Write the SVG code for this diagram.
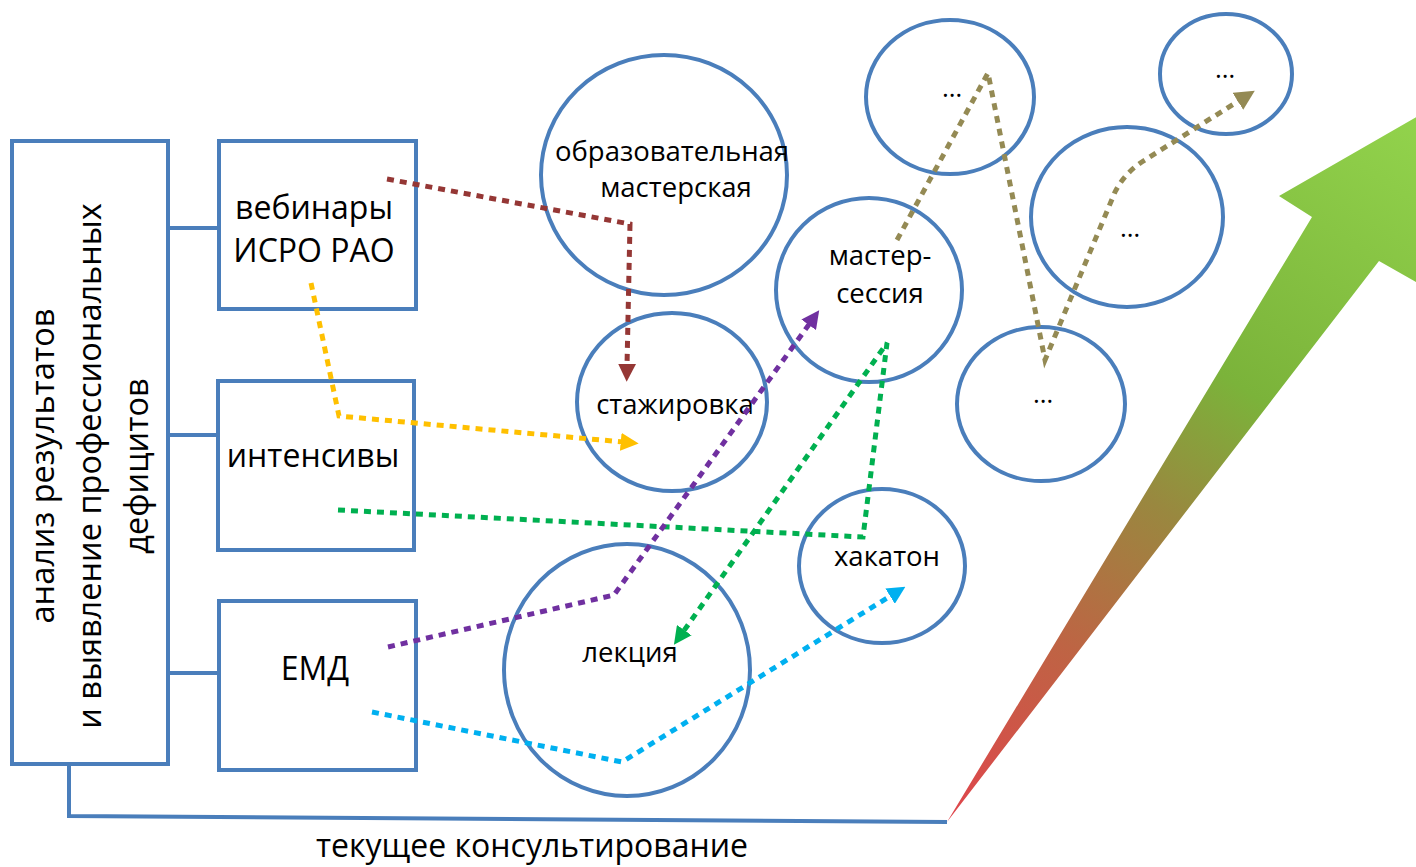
<svg xmlns="http://www.w3.org/2000/svg" width="1416" height="867" viewBox="0 0 1416 867">
<style>
.box{fill:#fff;stroke:#4A7EBB;stroke-width:4}
.ell{fill:none;stroke:#4A7EBB;stroke-width:4}
.ln{fill:none;stroke:#4A7EBB;stroke-width:4}
.t{font-family:"Open Sans","Noto Sans",sans-serif;fill:#000;text-anchor:middle}
.bt{font-size:32px}
.vt{font-size:32.5px}
.ct{font-size:27.5px}
.dt{font-size:26px}
.dot{fill:none;stroke-width:5;stroke-dasharray:7 6}
</style>
<defs>
<linearGradient id="g" gradientUnits="userSpaceOnUse" x1="947" y1="822" x2="1416" y2="117">
<stop offset="0" stop-color="#E0454C"/>
<stop offset="0.25" stop-color="#BE6444"/>
<stop offset="0.45" stop-color="#99883F"/>
<stop offset="0.62" stop-color="#7BB33A"/>
<stop offset="1" stop-color="#92D34C"/>
</linearGradient>
<marker id="mBr" markerUnits="userSpaceOnUse" markerWidth="18" markerHeight="18" viewBox="0 0 16 16" refX="2" refY="8" orient="auto"><path d="M0,0 L16,8 L0,16 z" fill="#953735"/></marker>
<marker id="mY" markerUnits="userSpaceOnUse" markerWidth="18" markerHeight="18" viewBox="0 0 16 16" refX="2" refY="8" orient="auto"><path d="M0,0 L16,8 L0,16 z" fill="#FFC000"/></marker>
<marker id="mG" markerUnits="userSpaceOnUse" markerWidth="18" markerHeight="18" viewBox="0 0 16 16" refX="2" refY="8" orient="auto"><path d="M0,0 L16,8 L0,16 z" fill="#00B050"/></marker>
<marker id="mP" markerUnits="userSpaceOnUse" markerWidth="18" markerHeight="18" viewBox="0 0 16 16" refX="2" refY="8" orient="auto"><path d="M0,0 L16,8 L0,16 z" fill="#7030A0"/></marker>
<marker id="mC" markerUnits="userSpaceOnUse" markerWidth="18" markerHeight="18" viewBox="0 0 16 16" refX="2" refY="8" orient="auto"><path d="M0,0 L16,8 L0,16 z" fill="#00B0F0"/></marker>
<marker id="mO" markerUnits="userSpaceOnUse" markerWidth="20" markerHeight="20" viewBox="0 0 16 16" refX="2" refY="8" orient="auto"><path d="M0,0 L16,8 L0,16 z" fill="#948A54"/></marker>
</defs>
<rect width="1416" height="867" fill="#fff"/>

<g id="growth-arrow">
<polygon points="947,822 1312,217 1279,196 1460,92 1416,282 1379,261" fill="url(#g)"/>
</g>

<g id="analysis">
<rect class="box" x="12" y="141" width="156" height="623"/>
<text class="t vt" transform="translate(54,466) rotate(-90)">анализ результатов</text>
<text class="t vt" transform="translate(101,466) rotate(-90)">и выявление профессиональных</text>
<text class="t vt" transform="translate(148,466) rotate(-90)">дефицитов</text>
</g>

<g id="webinars">
<rect class="box" x="219" y="141" width="197" height="168"/>
<text class="t bt" x="314" y="219">вебинары</text>
<text class="t bt" x="314" y="262">ИСРО РАО</text>
</g>
<g id="intensives">
<rect class="box" x="218" y="381" width="196" height="169"/>
<text class="t bt" x="313" y="467">интенсивы</text>
</g>
<g id="emd">
<rect class="box" x="219" y="601" width="197" height="169"/>
<text class="t bt" x="315" y="680">ЕМД</text>
</g>

<g id="workshop">
<ellipse class="ell" cx="664" cy="175" rx="123" ry="120"/>
<text class="t ct" x="672" y="161">образовательная</text>
<text class="t ct" x="676" y="197">мастерская</text>
</g>
<g id="internship">
<ellipse class="ell" cx="672" cy="402" rx="95" ry="89"/>
<text class="t ct" x="675" y="414">стажировка</text>
</g>
<g id="master-session">
<ellipse class="ell" cx="869" cy="290" rx="93" ry="92"/>
<text class="t ct" x="880" y="265">мастер-</text>
<text class="t ct" x="880" y="303">сессия</text>
</g>
<g id="hackathon">
<ellipse class="ell" cx="882" cy="566" rx="83" ry="77"/>
<text class="t ct" x="887" y="566">хакатон</text>
</g>
<g id="lecture">
<ellipse class="ell" cx="627" cy="670" rx="123" ry="126"/>
<text class="t ct" x="630" y="662">лекция</text>
</g>
<g id="etc1">
<ellipse class="ell" cx="950" cy="97" rx="84" ry="77"/>
<text class="t dt" x="952" y="97">…</text>
</g>
<g id="etc2">
<ellipse class="ell" cx="1226" cy="74" rx="66" ry="60"/>
<text class="t dt" x="1225" y="78">…</text>
</g>
<g id="etc3">
<ellipse class="ell" cx="1127" cy="217" rx="96" ry="90"/>
<text class="t dt" x="1130" y="237">…</text>
</g>
<g id="etc4">
<ellipse class="ell" cx="1041" cy="404" rx="84" ry="77"/>
<text class="t dt" x="1043" y="403">…</text>
</g>

<g id="connectors">
<path class="ln" d="M168,228 H219 M168,435 H218 M168,673 H219"/>
<path class="ln" d="M69,764 V816 L947,822"/>
<path class="dot" stroke="#953735" d="M387,179 L630,224 L627,366" marker-end="url(#mBr)"/>
<path class="dot" stroke="#FFC000" d="M311,283 L339,416 L623,442" marker-end="url(#mY)"/>
<path class="dot" stroke="#00B050" d="M338,510 L863,537 L887,343 L683,632" marker-end="url(#mG)"/>
<path class="dot" stroke="#7030A0" d="M388,647 L614,595 L810,323" marker-end="url(#mP)"/>
<path class="dot" stroke="#00B0F0" d="M372,712 L622,762 L892,595" marker-end="url(#mC)"/>
<path class="dot" stroke="#948A54" stroke-width="6" d="M897,240 L988,73 L1045,360 L1115,192 Q1125,172 1145,160 L1240,100" marker-end="url(#mO)"/>
</g>

<g id="consulting-label">
<text class="t" font-size="32" x="532" y="857">текущее консультирование</text>
</g>
</svg>
